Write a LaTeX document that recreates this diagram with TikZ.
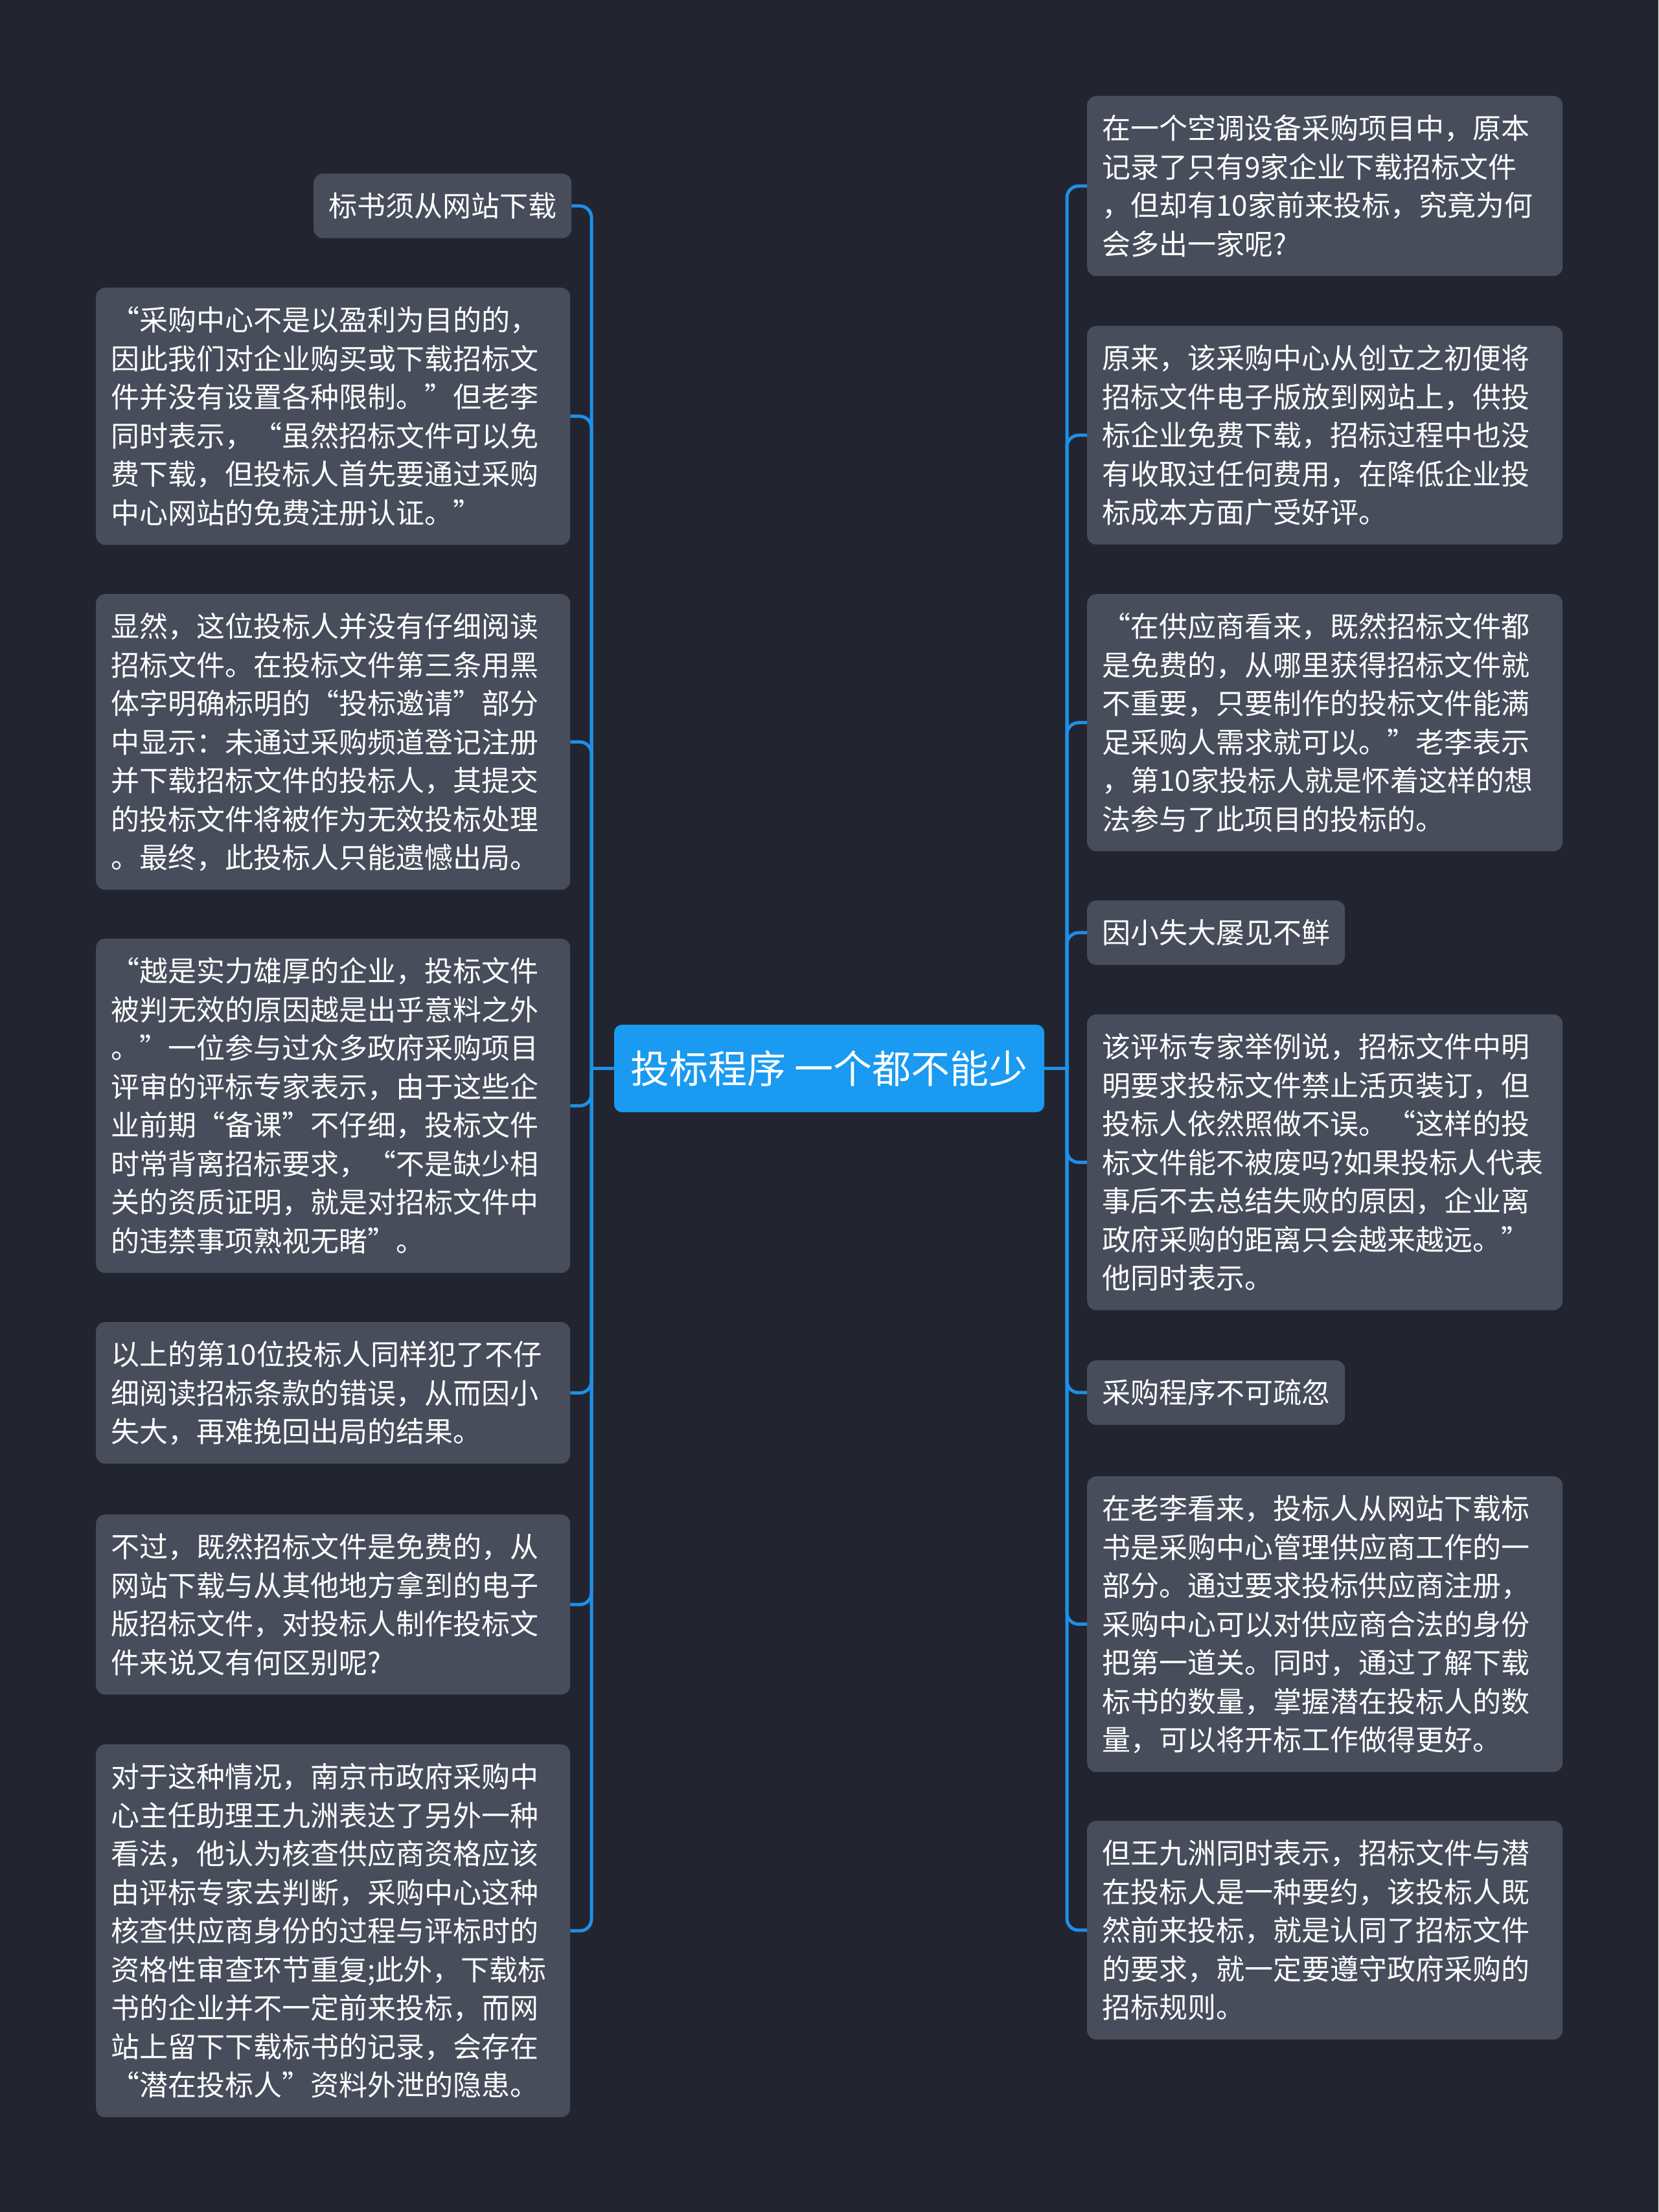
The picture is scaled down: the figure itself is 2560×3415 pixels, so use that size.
\documentclass[tikz,border=0pt]{standalone}
\usepackage{fontspec}
\setmainfont{Noto Sans CJK SC}
\definecolor{bgc}{HTML}{222530}
\definecolor{boxc}{HTML}{474D5B}
\definecolor{linec}{HTML}{1E90E6}
\definecolor{titlec}{HTML}{1A9AF0}
\newcommand\boxfont{\fontsize{44}{59.5}\selectfont}
\newcommand\mystrut{\rule[-13.05pt]{0pt}{59.5pt}}
\tikzset{
  leaf/.style={fill=boxc, rounded corners=14, text=white, font=\boxfont,
    inner xsep=23, inner ysep=20, anchor=north west, align=left,
    execute at begin node=\mystrut, execute at end node=\mystrut},
  leafL/.style={leaf, text width=686},
  leafR/.style={leaf, text width=688},
  leafS/.style={leaf, text width=352},
  title/.style={fill=titlec, rounded corners=12, text=white,
    font=\fontsize{60}{72}\selectfont, minimum width=664, minimum height=135, inner sep=0},
  conn/.style={draw=linec, line width=5}
}
\begin{document}
\begin{tikzpicture}[x=1pt,y=-1pt]
\fill[bgc] (0,0) rectangle (2560,3415);
\useasboundingbox (0,0) rectangle (2560,3415);

\node[title] (c) at (1280,1649.5) {投标程序 一个都不能少};

% left column
\node[leafS] (L1) at (484,268) {标书须从网站下载};
\node[leafL] (L2) at (148,444) {“采购中心不是以盈利为目的的，\\
因此我们对企业购买或下载招标文\\
件并没有设置各种限制。”但老李\\
同时表示，“虽然招标文件可以免\\
费下载，但投标人首先要通过采购\\
中心网站的免费注册认证。”};
\node[leafL] (L3) at (148,917) {显然，这位投标人并没有仔细阅读\\
招标文件。在投标文件第三条用黑\\
体字明确标明的“投标邀请”部分\\
中显示：未通过采购频道登记注册\\
并下载招标文件的投标人，其提交\\
的投标文件将被作为无效投标处理\\
。最终，此投标人只能遗憾出局。};
\node[leafL] (L4) at (148,1449) {“越是实力雄厚的企业，投标文件\\
被判无效的原因越是出乎意料之外\\
。”一位参与过众多政府采购项目\\
评审的评标专家表示，由于这些企\\
业前期“备课”不仔细，投标文件\\
时常背离招标要求，“不是缺少相\\
关的资质证明，就是对招标文件中\\
的违禁事项熟视无睹”。};
\node[leafL] (L5) at (148,2041) {以上的第10位投标人同样犯了不仔\\
细阅读招标条款的错误，从而因小\\
失大，再难挽回出局的结果。};
\node[leafL] (L6) at (148,2338) {不过，既然招标文件是免费的，从\\
网站下载与从其他地方拿到的电子\\
版招标文件，对投标人制作投标文\\
件来说又有何区别呢?};
\node[leafL] (L7) at (148,2693) {对于这种情况，南京市政府采购中\\
心主任助理王九洲表达了另外一种\\
看法，他认为核查供应商资格应该\\
由评标专家去判断，采购中心这种\\
核查供应商身份的过程与评标时的\\
资格性审查环节重复;此外，下载标\\
书的企业并不一定前来投标，而网\\
站上留下下载标书的记录，会存在\\
“潜在投标人”资料外泄的隐患。};

% right column
\node[leafR] (R1) at (1678,148) {在一个空调设备采购项目中，原本\\
记录了只有9家企业下载招标文件\\
，但却有10家前来投标，究竟为何\\
会多出一家呢?};
\node[leafR] (R2) at (1678,503) {原来，该采购中心从创立之初便将\\
招标文件电子版放到网站上，供投\\
标企业免费下载，招标过程中也没\\
有收取过任何费用，在降低企业投\\
标成本方面广受好评。};
\node[leafR] (R3) at (1678,917) {“在供应商看来，既然招标文件都\\
是免费的，从哪里获得招标文件就\\
不重要，只要制作的投标文件能满\\
足采购人需求就可以。”老李表示\\
，第10家投标人就是怀着这样的想\\
法参与了此项目的投标的。};
\node[leafS] (R4) at (1678,1390) {因小失大屡见不鲜};
\node[leafR] (R5) at (1678,1566) {该评标专家举例说，招标文件中明\\
明要求投标文件禁止活页装订，但\\
投标人依然照做不误。“这样的投\\
标文件能不被废吗?如果投标人代表\\
事后不去总结失败的原因，企业离\\
政府采购的距离只会越来越远。”\\
他同时表示。};
\node[leafS] (R6) at (1678,2100) {采购程序不可疏忽};
\node[leafR] (R7) at (1678,2279) {在老李看来，投标人从网站下载标\\
书是采购中心管理供应商工作的一\\
部分。通过要求投标供应商注册，\\
采购中心可以对供应商合法的身份\\
把第一道关。同时，通过了解下载\\
标书的数量，掌握潜在投标人的数\\
量，可以将开标工作做得更好。};
\node[leafR] (R8) at (1678,2811) {但王九洲同时表示，招标文件与潜\\
在投标人是一种要约，该投标人既\\
然前来投标，就是认同了招标文件\\
的要求，就一定要遵守政府采购的\\
招标规则。};

% connectors
\coordinate (jl) at (913,1649.5);
\coordinate (jr) at (1647,1649.5);
\draw[conn] (c.west) -- (jl);
\draw[conn] (c.east) -- (jr);
\foreach \n in {L1,L2,L3,L4,L5,L6,L7}
  \draw[conn, rounded corners=18] (jl) |- (\n.east);
\foreach \n in {R1,R2,R3,R4,R5,R6,R7,R8}
  \draw[conn, rounded corners=18] (jr) |- (\n.west);
\end{tikzpicture}
\end{document}
